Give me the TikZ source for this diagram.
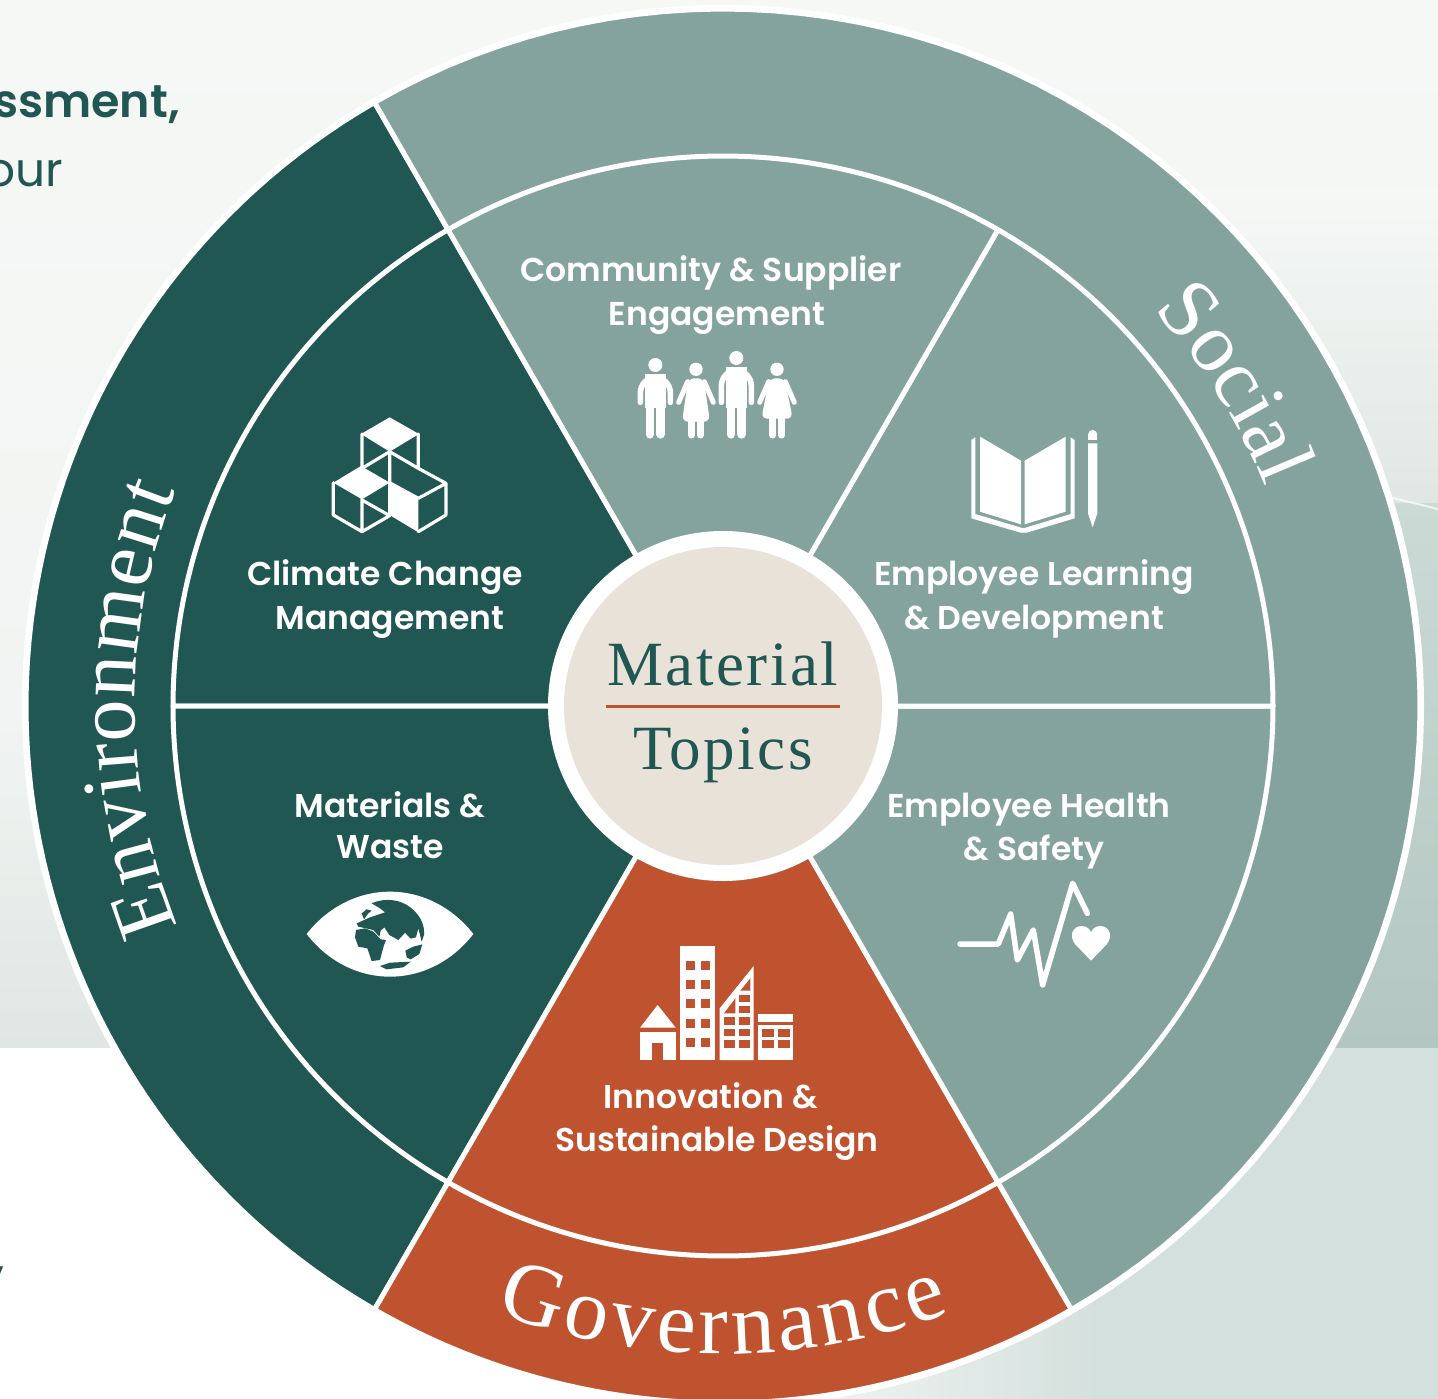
\documentclass[tikz,border=0pt]{standalone}
\usepackage{fontspec}
\usetikzlibrary{decorations.text}
\setmainfont{Liberation Serif}
\newfontfamily\labfont{Poppins}[UprightFont=* SemiBold]
\newfontfamily\topbold{Poppins}[UprightFont=* SemiBold]
\newfontfamily\topreg{Poppins}
\newfontfamily\serifsp{Liberation Serif}[LetterSpace=4]
\newcommand{\bigserif}{\fontsize{84}{84}\selectfont}
\newcommand{\govserif}{\fontsize{88}{88}\selectfont}
\definecolor{teal}{HTML}{215753}
\definecolor{sage}{HTML}{84A39C}
\definecolor{rust}{HTML}{BF5330}
\definecolor{beige}{HTML}{E8E2D8}
\definecolor{bgtop}{HTML}{F6F8F6}
\definecolor{bgmid}{HTML}{DFE6E3}
\definecolor{bglow}{HTML}{F1F4F2}
\definecolor{mistB}{HTML}{DFE7E4}
\definecolor{mistC}{HTML}{CCDAD6}
\definecolor{mistD}{HTML}{B3C6C1}
\definecolor{lowR}{HTML}{D4E0DD}
\tikzset{
  lab/.style={anchor=base,text=white,font=\labfont\fontsize{33}{36}\selectfont,inner sep=0pt},
  centretxt/.style={anchor=base,text=teal,font=\serifsp\fontsize{63}{66}\selectfont,inner sep=0pt},
  edge/.style={draw=white,line width=5pt,line join=round},
  thin/.style={draw=white,line width=3.2pt,line join=round,line cap=round},
  curved/.style={decorate,decoration={text along path,text align={fit to path},text={#1}}}
}
\newcommand{\wedgeshape}[4]{% a b R color
  \path[fill=#4,edge] (723,706) -- plot[domain=#1:#2,samples=80,variable=\t] ({723+#3*cos(\t)},{706-#3*sin(\t)}) -- cycle;}
\newcommand{\manicon}[2]{% cx top
  \fill[white] (#1,#2-28) circle[radius=21pt];
  \draw[white,line width=5.6pt,line cap=round,rounded corners=16pt] (#1-45,187) -- (#1-45,#2+8) -- (#1+45,#2+8) -- (#1+45,187);
  \fill[white] (#1-31,#2) rectangle (#1+31,205);
  \draw[white,line width=8.6pt,line cap=round] (#1-16,200) -- (#1-16,283) (#1+16,200) -- (#1+16,283);}
\newcommand{\womanicon}[3]{% cx skirtY flare
  \fill[white] (#1,88) circle[radius=20pt];
  \fill[white,rounded corners=6pt] (#1-23,115) -- (#1+23,115) -- (#1+#3,#2) -- (#1-#3,#2) -- cycle;
  \draw[white,line width=5pt,line cap=round] (#1-25,125) -- (#1-52,187) (#1+25,125) -- (#1+52,187);
  \draw[white,line width=6.4pt,line cap=round] (#1-13,#2-4) -- (#1-13,286) (#1+13,#2-4) -- (#1+13,286);}
\begin{document}
\begin{tikzpicture}[x=1pt,y=-1pt]
\useasboundingbox (0,0) rectangle (1438,1399);
\clip (0,0) rectangle (1438,1399);
% background
\fill[white] (0,0) rectangle (1438,1399);
\shade[top color=bgtop,bottom color=bglow] (0,0) rectangle (1438,720);
\shade[top color=bglow,bottom color=bgmid] (0,720) rectangle (1438,1047);
\shade[left color=white,right color=lowR] (650,1047) rectangle (1100,1399);
\fill[lowR] (1100,1047) rectangle (1438,1399);
\shade[top color=bgtop,bottom color=mistB] (1150,190) rectangle (1438,503);
\shade[top color=mistC,bottom color=mistD] (1150,503) rectangle (1438,1047);
\draw[white,opacity=.7,line width=2pt] (1385,496) -- (1438,509);
% outer ring
\fill[white] (723,706) circle[radius=701pt];
\wedgeshape{120}{240}{697}{teal}
\wedgeshape{240}{300}{697}{rust}
\wedgeshape{-60}{120}{697}{sage}
% inner sectors
\wedgeshape{120}{180}{550}{teal}
\wedgeshape{180}{240}{550}{teal}
\wedgeshape{240}{300}{550}{rust}
\wedgeshape{300}{360}{550}{sage}
\wedgeshape{0}{60}{550}{sage}
\wedgeshape{60}{120}{550}{sage}
% centre
\fill[white] (723,706) circle[radius=175pt];
\fill[beige] (723,706) circle[radius=159pt];
\node[centretxt] (material) at (723,685) {Material};
\node[centretxt] (topics) at (723,769) {Topics};
\draw[rust,line width=2.6pt] (606,706.5) -- (840,706.5);
% curved titles
\path[curved={|\bigserif\color{white}|Environment}] plot[domain=202:158.5,samples=60,variable=\t] ({723+588*cos(\t)},{706-588*sin(\t)});
\path[curved={|\bigserif\color{white}|Social}] plot[domain=42.6:22.7,samples=40,variable=\t] ({723+585*cos(\t)},{706-585*sin(\t)});
\path[curved={|\govserif\color{white}|Governance}] plot[domain=249.5:290.5,samples=60,variable=\t] ({723+648*cos(\t)},{706-648*sin(\t)});
% labels
\node[lab] (l1a) at (711,281) {Community \& Supplier};
\node[lab] (l1b) at (717,325) {Engagement};
\node[lab] (l2a) at (385,585) {Climate Change};
\node[lab] (l2b) at (390,629) {Management};
\node[lab] (l3a) at (1034,585) {Employee Learning};
\node[lab] (l3b) at (1034,629) {\& Development};
\node[lab] (l4a) at (390,817) {Materials \&};
\node[lab] (l4b) at (390,858) {Waste};
\node[lab] (l5a) at (1029,817) {Employee Health};
\node[lab] (l5b) at (1034,860) {\& Safety};
\node[lab] (l6a) at (711,1108) {Innovation \&};
\node[lab] (l6b) at (717,1151) {Sustainable Design};
% clipped text at the left
\node[anchor=base east,inner sep=0pt,text=teal,font=\topbold\fontsize{46}{50}\selectfont] (t1) at (180,118) {ssment,};
\node[anchor=base east,inner sep=0pt,text=teal,font=\topreg\fontsize{47}{50}\selectfont] (t2) at (63,187) {our};
\node[anchor=base east,inner sep=0pt,text=teal,font=\topbold\fontsize{46}{50}\selectfont] (t3) at (5,1273) {,};
% cubes
\begin{scope}[shift={(300,400)},scale=1/3]
\fill[white] (269,52) -- (357,102) -- (269,155) -- (183,102) -- cycle;
\fill[white] (183,198) -- (269,248) -- (186,298) -- (100,248) -- cycle;
\fill[white] (272,250) -- (355,295) -- (355,397) -- (272,347) -- cycle;
\draw[thin] (186,102) -- (186,200) (355,102) -- (355,205) (269,155) -- (269,248)
 (186,205) -- (269,155) -- (355,205) -- (438,250) -- (355,295) -- (272,250)
 (438,250) -- (438,345) -- (355,395)
 (100,248) -- (100,345) -- (186,395) -- (269,347)
 (186,298) -- (186,395) (186,300) -- (269,347) (269,248) -- (269,347);
\end{scope}
% people
\begin{scope}[shift={(620,340)},scale=1/3]
\manicon{106}{103}
\manicon{349}{82}
\womanicon{228}{245}{42}
\womanicon{471}{236}{47}
\end{scope}
% book and pencil
\begin{scope}[shift={(950,420)},scale=1/3]
\fill[white] (90,50) -- (213,122) -- (213,313) -- (90,275) -- cycle;
\fill[white] (224,122) -- (347,50) -- (347,275) -- (224,313) -- cycle;
\fill[white] (64,60) -- (76,52) -- (76,282) -- (220,325) -- (362,282) -- (362,52) -- (374,60) -- (374,295) -- (230,338) -- (212,338) -- (64,295) -- cycle;
\fill[white] (428,44) circle[radius=14pt];
\fill[white] (414,44) rectangle (442,60);
\fill[white] (414,70) -- (442,70) -- (442,280) -- (428,322) -- (414,280) -- cycle;
\end{scope}
% eye and globe
\begin{scope}[shift={(290,880)},scale=1/3]
\fill[white] (50,162) .. controls (110,85) and (200,35) .. (300,35) .. controls (400,35) and (490,85) .. (550,162) .. controls (490,240) and (400,290) .. (300,290) .. controls (200,290) and (110,240) .. (50,162) -- cycle;
\fill[teal] (245,70) .. controls (290,50) and (345,60) .. (375,95) .. controls (395,115) and (404,140) .. (402,165) -- (395,185) -- (385,145) -- (378,172) -- (362,176) -- (345,158) -- (325,180) -- (298,165) -- (283,142) -- (272,152) -- (268,170) -- (250,150) -- (205,140) -- (200,130) -- (240,112) -- (285,97) -- (270,85) -- cycle;
\fill[teal] (198,150) -- (225,145) -- (250,155) -- (272,178) -- (288,180) -- (282,195) -- (270,240) -- (245,243) -- (232,205) -- (205,200) -- (195,172) -- cycle;
\fill[teal] (346,212) -- (370,200) -- (397,193) -- (388,222) -- (362,238) -- (350,232) -- cycle;
\fill[teal] (270,258) -- (300,248) -- (362,245) -- (340,262) -- (290,268) -- cycle;
\fill[teal] (215,100) -- (230,88) -- (245,92) -- (235,100) -- (222,118) -- cycle;
\end{scope}
% heartbeat
\begin{scope}[shift={(940,870)},scale=1/3]
\draw[white,line width=5.5pt,line cap=round,line join=round] (60,222) -- (175,222) -- (212,132) -- (232,270) -- (280,180) -- (308,345) -- (398,40) -- (442,130);
\fill[white] (453,272) -- (405,222) .. controls (385,195) and (400,168) .. (425,168) .. controls (440,168) and (450,178) .. (453,187) .. controls (456,178) and (466,168) .. (481,168) .. controls (506,168) and (521,195) .. (501,222) -- cycle;
\end{scope}
% buildings
\begin{scope}[shift={(620,930)},scale=1/3]
\fill[white] (60,293) -- (113,225) -- (167,293) -- cycle;
\fill[white] (60,305) rectangle (167,390);
\fill[rust] (95,338) rectangle (130,390);
\fill[white] (181,47) rectangle (285,390);
\foreach \yy in {93,150,208,267,325}{
  \fill[rust] (198,\yy) rectangle (224,\yy+27);
  \fill[rust] (243,\yy) rectangle (269,\yy+27);
}
\fill[white] (299,235) -- (401,108) -- (401,390) -- (299,390) -- cycle;
\foreach \yy in {330,296,262}{
  \fill[rust] (312,\yy) rectangle (346,\yy+23);
  \fill[rust] (357,\yy) rectangle (391,\yy+23);
}
\fill[rust] (312,250) -- (346,205) -- (346,250) -- cycle;
\fill[rust] (357,228) rectangle (391,250);
\fill[rust] (357,194) rectangle (391,216);
\fill[rust] (361,182) -- (391,145) -- (391,182) -- cycle;
\fill[white] (414,252) rectangle (520,276);
\fill[white] (414,285) rectangle (520,390);
\foreach \yy in {297,330}{
  \fill[rust] (427,\yy) rectangle (463,\yy+23);
  \fill[rust] (473,\yy) rectangle (509,\yy+23);
}
\end{scope}
\end{tikzpicture}
\end{document}
